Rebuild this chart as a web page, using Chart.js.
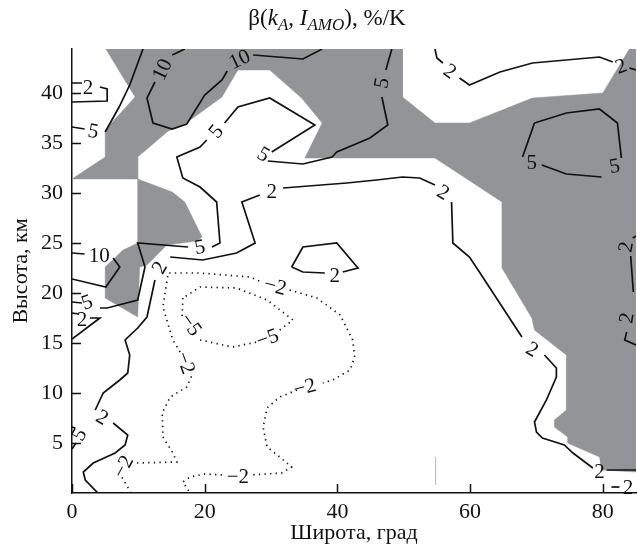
<!DOCTYPE html>
<html>
<head>
<meta charset="utf-8">
<script src="https://cdn.jsdelivr.net/npm/chart.js@4.4.0/dist/chart.umd.min.js"></script>
<style>
  html, body { margin: 0; padding: 0; background: #fff; }
  #wrap { width: 637px; height: 547px; }
</style>
</head>
<body>
<div id="wrap"><canvas id="chart" width="637" height="547"></canvas></div>
<script>
// Axes: latitude (deg) and height (km)
const xRange = [0, 85];
const yRange = [0, 44.4];
const xStep = 20;
const yStep = 5;

// shaded area (beta above the significance level), as [lat, km]
const shaded = [[5.1,44.4],[49.8,44.4],[49.8,39.6],[54.7,37.0],[59.9,37.0],[69.4,39.5],[80.0,40.0],[84.0,44.4],[85,44.4],
  [85,2.1],[79.8,2.3],[79.5,3.6],[74.7,5.0],[74.7,5.6],[72.7,6.6],[72.7,7.3],[74.5,8.3],[74.5,13.8],[69.7,16.3],[69.3,17.5],
  [64.8,22.5],[64.8,29.1],[54.7,33.5],[35.1,33.5],[37.7,37.0],[34.6,39.5],[29.8,42.3],[25.0,42.3],[22.6,39.6],[17.0,36.9],
  [14.5,36.2],[9.9,33.6],[9.9,31.4],[15.1,30.1],[17.0,29.1],[19.6,25.6],[18.8,25.2],[14.3,24.8],[11.3,22.8],[10.2,22.6],
  [9.9,17.6],[5.0,19.5],[5.0,22.6],[7.7,24.3],[9.9,25.0],[9.9,31.4],[0,31.4],[5.0,33.6],[5.0,36.3],[9.5,39.6],[5.1,44.4]];

// isolines, null = break where a label sits
const iso2TopLeft = [[0,41.0],[1.5,41.0],null,[4.2,40.6],[5.3,40.4],[5.3,39.2],[0,39.1]];
const iso5TopLeft = [[0,36.6],[1.9,36.4],null,[5.0,36.1],[7.1,38.6],[8.7,40.8],[10.7,44.4]];
const iso10Band = [[17.0,44.4],[15.1,43.8],null,[12.5,41.1],[11.3,39.5],[12.2,37.0],[15.1,36.4],[17.3,36.9],[20.0,39.8],
  [22.6,41.3],[23.4,42.2],null,[27.3,43.8],[34.8,43.4],[37.7,44.4]];
const iso10Left = [[0,24.0],[1.9,23.9],null,[6.2,23.5],[7.2,22.6],[5.1,20.6],[0,21.4]];
const iso5Main = [[0,19.1],[1.5,19.0],null,[4.2,18.5],[5.3,18.5],[9.9,19.3],[11.0,22.6],[9.9,25.0],[17.5,24.6],null,
  [21.1,24.6],[22.3,25.0],[21.8,29.1],[19.3,30.6],[16.7,31.5],[15.8,33.6],[19.3,34.6],[20.3,35.3],null,[23.0,37.0],
  [25.0,38.6],[29.8,39.5],[36.6,36.8],[30.1,34.1],null,[29.5,33.2],[34.8,32.9],[39.2,33.6],[39.9,34.1],[44.9,35.5],
  [47.6,36.8],[46.7,39.6],null,[47.3,42.3],[48.2,44.4]];
const iso2Main = [[3.9,0],[2.0,1.3],[1.7,2.1],[3.2,3.0],[6.5,4.0],[8.0,4.8],[8.4,5.8],[6.2,7.0],null,[3.5,8.3],[4.7,10.0],
  [7.2,11.3],[8.4,12.0],[8.7,13.8],[8.0,15.3],[9.9,16.5],[11.3,17.6],[12.5,21.3],null,[14.8,23.6],[19.7,23.3],[24.8,24.0],
  [27.6,25.0],[25.6,29.1],[28.3,29.8],null,[31.8,30.5],[41.4,31.0],[45.9,31.3],[49.8,31.6],[52.4,31.5],[54.7,30.8],null,
  [57.2,29.1],[57.4,25.0],[59.9,23.6],[61.4,22.1],[67.8,15.6],null,[71.2,13.8],[73.0,12.5],[73.0,11.6],[71.5,9.3],
  [69.7,7.1],[70.0,6.1],[70.9,5.5],[74.2,4.8],[75.5,4.0],[78.5,2.5],null,[80.6,2.3],[85,2.3]];
const iso2TopRight = [[54.7,44.4],[55.0,43.5],[55.9,43.0],null,[58.4,41.5],[59.9,40.8],[64.5,42.1],[69.4,43.0],[79.5,43.6],
  [81.5,43.1],null,[84.0,42.5],[85,42.3]];
const iso5Loop = [[69.7,37.0],[74.5,38.0],[79.5,38.4],[82.2,37.0],[82.8,33.5],null,[79.8,31.6],[74.5,31.9],[70.8,32.8],null,
  [67.9,33.6],[69.7,37.0]];
const iso2RightEdge = [[85,25.7],[84.5,25.5],null,[84.2,23.7],[84.6,20.1],null,[83.6,16.1],[83.3,15.3],[85,14.8]];
const iso2Corner = [[81.3,0.6],[82.5,0.6]];
const iso2Small = [[33.1,22.6],[34.8,24.6],[39.9,25.0],[43.1,22.5],[40.8,22.1],null,[38.1,22.0],[34.8,22.1],[33.1,22.6]];
const iso2Wedge = [[0,18.0],[1.0,17.9],null,[2.7,17.5],[4.2,17.5],[0,15.4]];
const iso5Edge = [[0,6.6],[0.5,6.5],null,[0.6,5.0],[0,4.4]];
const isoM2 = [[8.9,0],[7.5,1.6],null,[9.8,3.0],[15.8,3.1],[15.2,4.0],[13.7,5.6],[13.6,8.0],[14.8,9.6],[17.3,10.6],[18.1,11.8],
  null,[16.3,14.1],[15.2,15.3],[13.7,18.6],[14.5,22.0],[19.3,22.0],[26.8,21.6],[28.6,21.1],null,[32.8,20.3],[36.9,19.5],
  [40.4,17.8],[42.3,15.3],[42.6,13.6],[41.9,12.3],[39.3,11.3],[37.8,11.0],null,[33.9,10.3],[31.3,9.6],[29.4,8.5],[28.8,6.6],
  [29.4,4.6],[31.3,3.6],[33.1,2.6],[31.6,2.0],[26.8,1.8],null,[22.6,1.8],[20.0,1.9],[17.8,1.6],[16.7,1.1],[17.8,0]];
const isoM5 = [[16.7,19.5],[16.6,17.6],null,[19.3,15.3],[24.2,14.6],[27.9,15.1],null,[31.3,16.3],[33.3,17.3],[29.4,19.3],
  [24.8,20.5],[19.3,20.6],[16.7,19.5]];
const mark = [[54.8,0.8],[54.8,3.6]];

// isoline labels
const labelText = ['2','5','10','10','10','5','5','5','5','5','2','2','2','2','2','2','2','2','5','5','2','2','2','2','2','5',
  '−2','−2','−2','−2','−2','−5','−5'];
const labelX = [2.4,3.2,13.7,25.3,4.1,2.3,19.3,21.8,28.8,46.8,4.5,13.3,30.1,55.9,69.3,79.5,56.9,82.8,81.8,69.3,83.6,83.7,83.8,
  39.6,1.5,1.2,7.8,17.0,30.6,35.1,25.0,17.8,29.5];
const labelY = [40.5,36.1,42.3,43.3,23.7,19.0,24.5,36.1,33.8,41.0,7.5,22.5,30.1,30.0,14.3,2.1,42.1,42.6,32.6,33.0,24.6,17.5,0.5,
  21.7,17.3,5.8,2.6,13.0,20.6,10.5,1.6,16.8,15.4];
const labelAngle = [0,10,-65,-25,0,-20,-10,-50,30,-80,30,-60,0,30,30,0,35,-20,-10,0,-80,-80,0,0,0,-60,-62,70,15,-15,0,55,-20];

const titleParts = [
  { t: 'β(', style: '', sub: false },
  { t: 'k', style: 'italic', sub: false },
  { t: 'A', style: 'italic', sub: true },
  { t: ', ', style: '', sub: false },
  { t: 'I', style: 'italic', sub: false },
  { t: 'AMO', style: 'italic', sub: true },
  { t: '), %/K', style: '', sub: false }
];

const SERIF = '"Liberation Serif", "DejaVu Serif", serif';
const INK = '#111';
const GREY = '#939498';

const toPts = arr => arr.map(p => p ? { x: p[0], y: p[1] } : { x: null, y: null });

function isoLine(arr, dotted) {
  return {
    data: toPts(arr), showLine: true, fill: false, tension: 0, spanGaps: false,
    borderColor: INK, borderWidth: 1.7, borderDash: dotted ? [1.3, 4.3] : [],
    pointRadius: 0, pointHoverRadius: 0, order: 1
  };
}

const decor = {
  id: 'decor',
  afterDatasetsDraw(chart) {
    const { ctx, scales: { x, y } } = chart;
    ctx.save();
    ctx.fillStyle = INK;
    ctx.font = '21px ' + SERIF;
    ctx.textAlign = 'center';
    ctx.textBaseline = 'middle';
    labelText.forEach((t, i) => {
      ctx.save();
      ctx.translate(x.getPixelForValue(labelX[i]), y.getPixelForValue(labelY[i]));
      ctx.rotate(labelAngle[i] * Math.PI / 180);
      ctx.fillText(t, 0, 0);
      ctx.restore();
    });
    ctx.restore();
  },
  afterDraw(chart) {
    const { ctx, chartArea: a, scales: { x, y } } = chart;
    ctx.save();
    // ticks point into the plot
    ctx.strokeStyle = INK;
    ctx.lineWidth = 1.5;
    ctx.beginPath();
    x.ticks.forEach(t => {
      const px = Math.round(x.getPixelForValue(t.value)) + 0.5;
      ctx.moveTo(px, a.bottom);
      ctx.lineTo(px, a.bottom - 9);
    });
    y.ticks.forEach(t => {
      if (t.value === 0) return;
      const py = Math.round(y.getPixelForValue(t.value)) + 0.5;
      ctx.moveTo(a.left, py);
      ctx.lineTo(a.left + 9, py);
    });
    ctx.stroke();

    // title with subscripts
    const big = 23, small = 17;
    const fontOf = p => `${p.style} ${p.sub ? small : big}px ${SERIF}`;
    let total = 0;
    titleParts.forEach(p => { ctx.font = fontOf(p); total += ctx.measureText(p.t).width; });
    let cx = 327 - total / 2;
    ctx.fillStyle = INK;
    ctx.textBaseline = 'alphabetic';
    ctx.textAlign = 'left';
    titleParts.forEach(p => {
      ctx.font = fontOf(p);
      ctx.fillText(p.t, cx, p.sub ? 30 : 25);
      cx += ctx.measureText(p.t).width;
    });
    ctx.restore();
  }
};

new Chart(document.getElementById('chart'), {
  type: 'scatter',
  data: {
    datasets: [
      { data: toPts(shaded), showLine: true, fill: 'shape', backgroundColor: GREY, borderColor: GREY,
        borderWidth: 0.5, pointRadius: 0, pointHoverRadius: 0, tension: 0, order: 5 },
      isoLine(iso2TopLeft), isoLine(iso5TopLeft), isoLine(iso10Band), isoLine(iso10Left),
      isoLine(iso5Main), isoLine(iso2Main), isoLine(iso2TopRight), isoLine(iso5Loop),
      isoLine(iso2RightEdge), isoLine(iso2Corner), isoLine(iso2Small), isoLine(iso2Wedge), isoLine(iso5Edge),
      isoLine(isoM2, true), isoLine(isoM5, true),
      { data: toPts(mark), showLine: true, borderColor: '#b8b8b8', borderWidth: 1, pointRadius: 0, order: 2 }
    ]
  },
  options: {
    responsive: false,
    devicePixelRatio: 1,
    animation: false,
    layout: { padding: { top: 49, right: 1, left: 0, bottom: 0 } },
    plugins: { legend: { display: false }, tooltip: { enabled: false } },
    scales: {
      x: {
        type: 'linear', min: xRange[0], max: xRange[1],
        border: { color: INK, width: 1.5 },
        grid: { display: false, drawTicks: false },
        ticks: { stepSize: xStep, includeBounds: false, color: INK, padding: 6, maxRotation: 0,
          font: { family: SERIF, size: 22 } },
        title: { display: true, text: 'Широта, град', color: INK, font: { family: SERIF, size: 22 },
          padding: { top: 0, bottom: 1 } },
        afterFit: s => { s.height = 54; }
      },
      y: {
        type: 'linear', min: yRange[0], max: yRange[1],
        border: { color: INK, width: 1.5 },
        grid: { display: false, drawTicks: false },
        ticks: { stepSize: yStep, includeBounds: false, color: INK, padding: 9,
          font: { family: SERIF, size: 22 }, callback: v => v === 0 ? '' : v },
        title: { display: true, text: 'Высота, км', color: INK, font: { family: SERIF, size: 22 },
          padding: { top: 8, bottom: 0 } },
        afterFit: s => { s.width = 72; }
      }
    }
  },
  plugins: [decor]
});
</script>
</body>
</html>
